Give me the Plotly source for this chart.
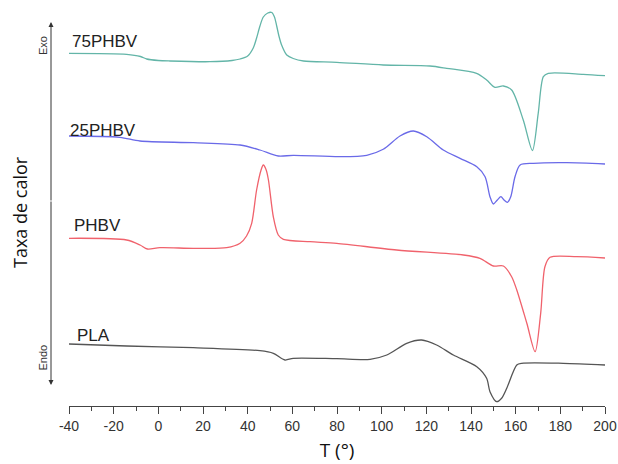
import plotly.graph_objects as go

# Heat flow in arbitrary units (endothermic = larger value, axis shown reversed: Exo up)
T_75 = [-40, -14.2, -8, -5.2, 0, 5.2, 23.1, 33, 36.6, 40, 42.5, 44, 45.5, 47, 49, 50.8, 52, 53, 54, 55.2,
        57.5, 60.4, 65, 79.9, 100.7, 121.6, 129.1, 142.5, 147, 150.7, 154.5, 158.2, 163.4, 167.5, 170.1,
        172.4, 174.6, 190.3, 200]
Y_75 = [53.3, 54.3, 56.5, 59, 60.5, 61, 61.7, 60.5, 59, 56, 48, 38, 26, 17, 13, 12.5, 17, 26, 36, 45,
        55, 58.5, 61, 62.3, 65, 66, 68.3, 73.3, 80, 87.3, 86, 90, 120, 150.5, 113.3,
        76.7, 73.3, 74.3, 75.7]

T_25 = [-40, -17.2, -8.2, 15.7, 36.6, 45.5, 53.7, 60.4, 81.3, 93.3, 100.7, 108.2, 114.2, 120.2, 127.6,
        135.1, 142.6, 146.3, 148.5, 150, 151.8, 153.4, 154.8, 156.3, 157.8, 159.7, 162, 167.9, 182.9, 200]
Y_25 = [136, 137.3, 141, 142.7, 145, 150, 156, 155.3, 156.7, 155.3, 149.3, 136, 131, 136.7, 150,
        158.3, 166.7, 176.7, 196.7, 204, 200, 196.7, 200, 202.3, 196.7, 176.7, 165, 163.3, 162.7, 164]

T_PHBV = [-40, -14.2, -8.2, -4.9, 0.7, 15.7, 30.6, 36.6, 39.5, 41.8, 44, 46, 47, 48.3, 49.3, 51.5, 53.7,
          56, 67.9, 79.9, 106.7, 136.6, 144, 150, 154.5, 158.2, 160.5, 165, 168.7, 171.2, 173.1, 175.4,
          187.3, 200]
Y_PHBV = [238.3, 240, 245, 249, 247.7, 248.3, 247.7, 243.3, 236, 223.3, 190, 170, 165, 170, 180, 217, 235,
          239.3, 241.7, 243.3, 250, 255, 258.3, 266, 266, 276.7, 290, 323.3, 351.7, 313.3, 266.7, 257.3,
          256.7, 258]

T_PLA = [-40, -14.2, 15.7, 45.5, 51.5, 56.7, 60.4, 79.9, 94.8, 102.3, 111.2, 117.9, 124.6, 132.1, 142.6,
         147, 148.5, 151.5, 153.7, 156, 160.5, 162.7, 181.3, 200]
Y_PLA = [344, 346, 347.7, 350.7, 353.3, 360, 358.3, 358.7, 359.3, 355, 343.3, 340, 345, 355, 366.7,
         378.3, 391.7, 401.7, 398.3, 388.3, 365, 363.3, 363.3, 365]

series = [
    ("75PHBV", T_75, Y_75, "#63b5a8"),
    ("25PHBV", T_25, Y_25, "#6a6ae8"),
    ("PHBV", T_PHBV, Y_PHBV, "#f0626c"),
    ("PLA", T_PLA, Y_PLA, "#555555"),
]
labels = ["75PHBV", "25PHBV", "PHBV", "PLA"]
label_T = [-39.6, -40.4, -38.7, -37.3]
label_Y = [41, 130, 225, 335]

tick_vals = [-40, -20, 0, 20, 40, 60, 80, 100, 120, 140, 160, 180, 200]
tick_text = ["-40", "-20", "0", "20", "40", "60", "80", "100", "120", "140", "160", "180", "200"]

X0, X1 = -40, 200

fig = go.Figure()
for name, xs, ys, col in series:
    fig.add_trace(go.Scatter(x=xs, y=ys, mode="lines", name=name,
                             line=dict(color=col, width=1.3, shape="spline", smoothing=0.8),
                             showlegend=False, hoverinfo="skip"))

ann = []
for lab, tx, ty in zip(labels, label_T, label_Y):
    ann.append(dict(x=(tx - X0) / (X1 - X0), y=ty, xref="paper", yref="y", text=lab, showarrow=False,
                    xanchor="left", yanchor="middle",
                    font=dict(family="Liberation Sans, Arial", size=17, color="#222")))

ax_x = (51 - 69) / 536
ann.append(dict(x=ax_x, y=22, xref="paper", yref="y", ax=0, ay=180, text="", showarrow=True,
                arrowhead=2, arrowsize=1, arrowwidth=1, arrowcolor="#333"))
ann.append(dict(x=ax_x, y=385, xref="paper", yref="y", ax=0, ay=-185, text="", showarrow=True,
                arrowhead=2, arrowsize=1, arrowwidth=1, arrowcolor="#333"))
ann.append(dict(x=(43 - 69) / 536, y=46, xref="paper", yref="y", text="Exo", showarrow=False,
                xanchor="center", yanchor="middle", textangle=-90,
                font=dict(family="Liberation Sans, Arial", size=11, color="#333")))
ann.append(dict(x=(42.5 - 69) / 536, y=358, xref="paper", yref="y", text="Endo", showarrow=False,
                xanchor="center", yanchor="middle", textangle=-90,
                font=dict(family="Liberation Sans, Arial", size=11, color="#333")))
ann.append(dict(x=(20 - 69) / 536, y=212, xref="paper", yref="y", text="Taxa de calor", showarrow=False,
                xanchor="center", yanchor="middle", textangle=-90,
                font=dict(family="Open Sans", size=18, color="#111")))

fig.update_layout(
    width=618, height=464,
    margin=dict(l=69, r=13, t=0, b=58),
    paper_bgcolor="white", plot_bgcolor="white",
    annotations=ann,
    xaxis=dict(range=[X0, X1], tickvals=tick_vals, ticktext=tick_text, ticks="outside", ticklen=7,
               tickwidth=1, tickcolor="#444", showline=True, linecolor="#444", linewidth=1,
               showgrid=False, zeroline=False,
               minor=dict(dtick=10, tick0=-40, ticks="outside", ticklen=4, tickcolor="#444", showgrid=False),
               tickfont=dict(family="Liberation Sans, Arial", size=14, color="#333"),
               title=dict(text="T (°)", font=dict(family="Open Sans", size=19, color="#111"), standoff=10)),
    yaxis=dict(range=[406, 0], visible=False),
)

fig.write_html("out.html")
